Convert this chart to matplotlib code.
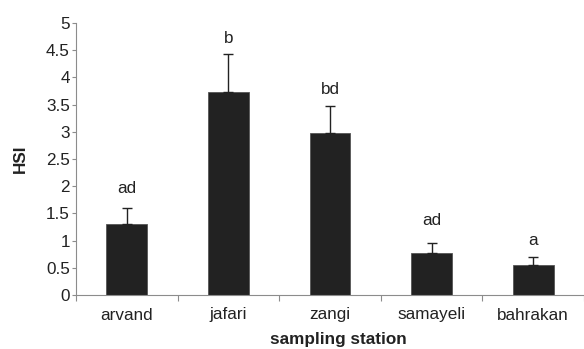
import matplotlib
matplotlib.use("Agg")
import matplotlib.pyplot as plt
import numpy as np

categories = ["arvand", "jafari", "zangi", "samayeli", "bahrakan"]
hsi = [1.30, 3.73, 2.97, 0.77, 0.56]
hsi_err = [0.30, 0.70, 0.50, 0.19, 0.13]
letters = ["ad", "b", "bd", "ad", "a"]
letter_y = [1.95, 4.71, 3.77, 1.37, 1.01]
yticks = [0, 0.5, 1, 1.5, 2, 2.5, 3, 3.5, 4, 4.5, 5]

plt.rcParams['font.family'] = ['Liberation Sans', 'DejaVu Sans']

fig = plt.figure(figsize=(5.84, 3.49), dpi=100)
ax = fig.add_axes([76/584, 1-295/349, 1-76/584, (295-23)/349])

x = np.arange(len(categories)) + 0.5
axis_col = "#8c8c8c"
txt_col = "#222222"
fs = 12.3
ax.bar(x, hsi, width=0.4, color="#222222", edgecolor="#555555", linewidth=0.6, zorder=2)
ax.errorbar(x, hsi, yerr=[np.zeros(len(hsi)), hsi_err], fmt="none",
            ecolor="#222222", elinewidth=1.0, capsize=3.5, capthick=1.0, zorder=3)
for xi, lab, ly in zip(x, letters, letter_y):
    ax.text(xi, ly, lab, ha="center", va="center", fontsize=fs, color=txt_col)

ax.set_xlim(0, len(categories))
ax.set_ylim(0, 5)
ax.set_yticks(yticks)
ax.set_yticklabels([f"{t:g}" for t in yticks])
ax.set_xticks(np.arange(len(categories) + 1))
ax.set_xticklabels([])
ax.set_xticks(x, minor=True)
ax.set_xticklabels(categories, minor=True)
ax.tick_params(axis="x", which="minor", length=0, pad=9, labelsize=fs, labelcolor=txt_col)
ax.tick_params(axis="x", which="major", length=4, color=axis_col, width=0.8)
ax.tick_params(axis="y", length=3, color=axis_col, width=0.8, labelsize=fs, labelcolor=txt_col, pad=1.5)

for s in ["top", "right"]:
    ax.spines[s].set_visible(False)
for s in ["left", "bottom"]:
    ax.spines[s].set_color(axis_col)
    ax.spines[s].set_linewidth(0.8)

ax.set_ylabel("HSI", fontsize=fs, fontweight="bold", labelpad=13, color=txt_col)
ax.set_xlabel("sampling station", fontsize=fs, fontweight="bold", labelpad=7, color=txt_col)
ax.xaxis.set_label_coords(0.516, -0.135)

fig.savefig("out.png", dpi=100)
